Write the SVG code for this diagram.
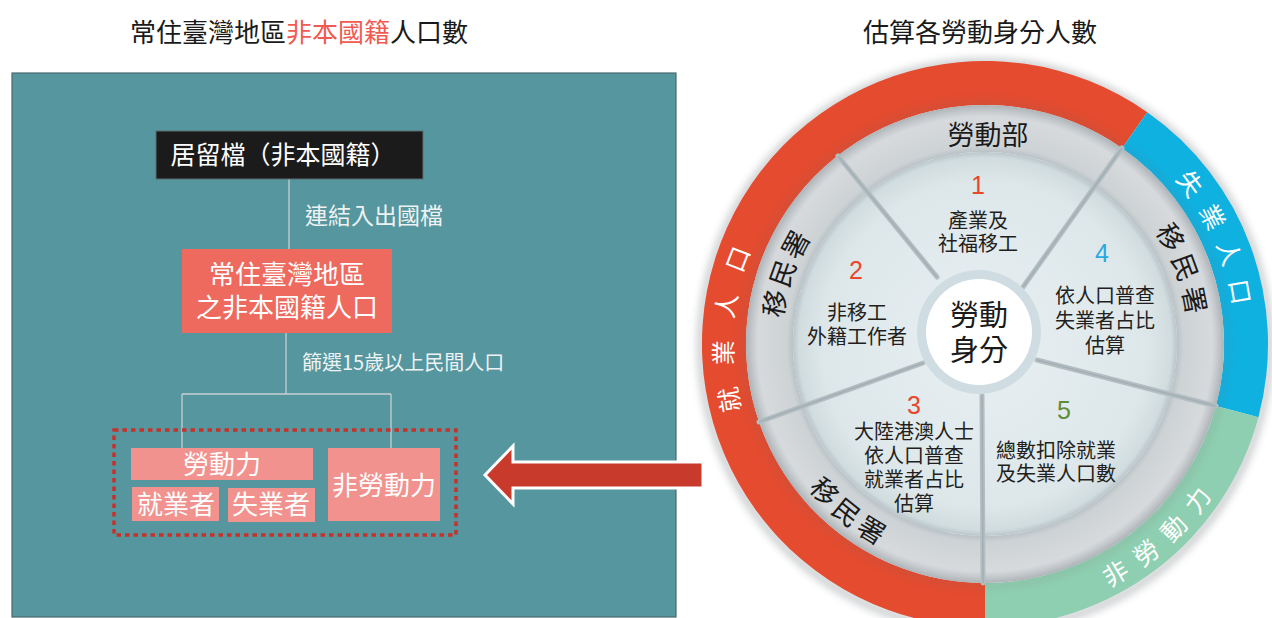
<svg xmlns="http://www.w3.org/2000/svg" width="1272" height="618" viewBox="0 0 1272 618">
<defs>
<style>
.t{font-family:"Noto Sans CJK TC","Noto Sans CJK SC",sans-serif;}
.seg{font-size:20px;fill:#231f20;text-anchor:middle;}
.num{font-size:25px;text-anchor:middle;font-family:"Liberation Sans","Noto Sans",sans-serif;}
.ring{font-size:25px;fill:#ffffff;dominant-baseline:central;}
.gring{font-size:27px;fill:#1a1a1a;dominant-baseline:central;}
.conn{stroke:#c7d0d2;stroke-width:1.3;fill:none;}
.pink{fill:#f1928e;}
.wt{fill:#ffffff;font-size:26px;text-anchor:middle;}
.div{stroke:#b3bec3;stroke-width:5;stroke-linecap:round;}
.div2{stroke:#a3afb4;stroke-width:1.5;}
</style>
<radialGradient id="gGray" gradientUnits="userSpaceOnUse" cx="985" cy="344" r="239">
<stop offset="0.80" stop-color="#b8c0c4"/>
<stop offset="0.83" stop-color="#cdd2d5"/>
<stop offset="0.95" stop-color="#d7dadd"/>
<stop offset="1" stop-color="#b5bbbf"/>
</radialGradient>
<radialGradient id="gLight" gradientUnits="userSpaceOnUse" cx="985" cy="344" r="192">
<stop offset="0" stop-color="#e8eff1"/>
<stop offset="0.85" stop-color="#dde7ea"/>
<stop offset="0.97" stop-color="#d1dcdf"/>
<stop offset="1" stop-color="#b9c6ca"/>
</radialGradient>
<filter id="blur" x="-20%" y="-20%" width="140%" height="140%"><feGaussianBlur stdDeviation="4"/></filter>
<path id="pRed" d="M 731.0 412.1 A 263 263 0 0 1 834.1 128.6"/>
<path id="pBlue" d="M 1183.6 173.1 A 262 262 0 0 1 1231.2 433.6"/>
<path id="pGreen" d="M 1103.5 577.7 A 262 262 0 0 0 1247 344"/>
<path id="pL" d="M 770.8 316.2 A 216 216 0 0 1 877 156.9"/>
<path id="pR" d="M 1165.1 224.8 A 216 216 0 0 1 1188 417.9"/>
<path id="pB" d="M 817.1 479.9 A 216 216 0 0 0 985 560"/>
</defs>
<rect x="0" y="0" width="1272" height="618" fill="#ffffff"/>

<!-- titles -->
<text class="t" x="299" y="42" font-size="26" text-anchor="middle" fill="#1a1a1a">常住臺灣地區<tspan fill="#ef5b52">非本國籍</tspan>人口數</text>
<text class="t" x="980" y="42" font-size="26" text-anchor="middle" fill="#1a1a1a">估算各勞動身分人數</text>

<!-- left panel -->
<rect x="12" y="73" width="664" height="544" fill="#55969f" stroke="#4a6a70" stroke-width="1.2"/>

<g id="connectors">
<line class="conn" x1="289" y1="179" x2="289" y2="249"/>
<line class="conn" x1="286" y1="333" x2="286" y2="394"/>
<line class="conn" x1="182" y1="394" x2="391" y2="394"/>
<line class="conn" x1="182" y1="394" x2="182" y2="448"/>
<line class="conn" x1="391" y1="394" x2="391" y2="448"/>
<text class="t" x="305" y="224" font-size="23" fill="#eef2f2">連結入出國檔</text>
<text class="t" x="302" y="370" font-size="20" fill="#eef2f2">篩選15歲以上民間人口</text>
</g>

<g id="node-residence">
<rect x="156" y="131" width="267" height="48" fill="#1b1b1b" stroke="#5d6d71" stroke-width="1"/>
<text class="t" x="283" y="164" font-size="25" text-anchor="middle" fill="#ffffff">居留檔（非本國籍）</text>
</g>

<g id="node-foreign">
<rect x="182" y="249" width="210" height="84" fill="#ee6a5f"/>
<text class="t wt" x="287" y="284">常住臺灣地區</text>
<text class="t wt" x="287" y="317">之非本國籍人口</text>
</g>

<g id="node-group">
<rect x="114" y="430" width="342" height="105" fill="none" stroke="#c6312a" stroke-width="3.5" stroke-dasharray="4.5 4"/>
</g>
<g id="node-labor">
<rect class="pink" x="131" y="448" width="182" height="32"/>
<text class="t wt" x="222" y="474">勞動力</text>
</g>
<g id="node-employed">
<rect class="pink" x="132" y="487" width="87" height="34"/>
<text class="t wt" x="176" y="514">就業者</text>
</g>
<g id="node-unemployed">
<rect class="pink" x="228" y="488" width="87" height="34"/>
<text class="t wt" x="271" y="514">失業者</text>
</g>
<g id="node-nonlabor">
<rect class="pink" x="328" y="448" width="112" height="73"/>
<text class="t wt" x="384" y="495">非勞動力</text>
</g>

<g id="arrow">
<polygon points="485,475 513,446 513,462 703,462 703,488 513,488 513,504" fill="#c83a2c" stroke="#ffffff" stroke-width="3" stroke-linejoin="miter"/>
</g>

<!-- wheel -->
<g id="wheel">
<circle cx="985" cy="346" r="284" fill="none" stroke="#8a8f93" stroke-width="6" opacity="0.6" filter="url(#blur)"/>
<path d="M 985 627 A 283 283 0 1 1 1147.3 112.2 L 1122.1 148.2 A 239 239 0 1 0 985 583 Z" fill="#e44b2f"/>
<path d="M 1147.3 112.2 A 283 283 0 0 1 1258.4 417.2 L 1215.9 405.9 A 239 239 0 0 0 1122.1 148.2 Z" fill="#0fb1e1"/>
<path d="M 1258.4 417.2 A 283 283 0 0 1 985 627 L 985 583 A 239 239 0 0 0 1215.9 405.9 Z" fill="#8fcfb1"/>
<circle cx="985" cy="344" r="215.5" fill="none" stroke="url(#gGray)" stroke-width="47"/>
<circle cx="985" cy="344" r="241" fill="none" stroke="#6b6b6b" stroke-width="4" opacity="0.25" filter="url(#blur)"/>
<circle cx="985" cy="344" r="192" fill="url(#gLight)"/>
</g>

<g id="dividers">
<line class="div" x1="937" y1="277" x2="838" y2="156"/>
<line class="div" x1="1023" y1="287" x2="1122" y2="148"/>
<line class="div" x1="1037" y1="360" x2="1216" y2="406"/>
<line class="div" x1="982" y1="395" x2="983" y2="583"/>
<line class="div" x1="923" y1="363" x2="759" y2="422"/>
<line class="div2" x1="937" y1="277" x2="838" y2="156"/>
<line class="div2" x1="1023" y1="287" x2="1122" y2="148"/>
<line class="div2" x1="1037" y1="360" x2="1216" y2="406"/>
<line class="div2" x1="982" y1="395" x2="983" y2="583"/>
<line class="div2" x1="923" y1="363" x2="759" y2="422"/>
</g>

<g id="ring-labels">
<text class="t ring" letter-spacing="22.7"><textPath href="#pRed">就業人口</textPath></text>
<text class="t ring" letter-spacing="15.2"><textPath href="#pBlue">失業人口</textPath></text>
<text class="t ring" letter-spacing="11.7"><textPath href="#pGreen">非勞動力</textPath></text>
</g>

<g id="agency-labels">
<text class="t gring" x="988" y="133" text-anchor="middle">勞動部</text>
<text class="t gring" letter-spacing="4.5"><textPath href="#pL">移民署</textPath></text>
<text class="t gring" letter-spacing="7"><textPath href="#pR">移民署</textPath></text>
<text class="t gring" letter-spacing="3.2"><textPath href="#pB">移民署</textPath></text>
</g>

<g id="seg-1">
<text class="num" x="978" y="194" fill="#e8472b">1</text>
<text class="t seg" x="978" y="228">產業及</text>
<text class="t seg" x="978" y="251">社福移工</text>
</g>
<g id="seg-2">
<text class="num" x="856" y="279" fill="#e8472b">2</text>
<text class="t seg" x="857" y="320">非移工</text>
<text class="t seg" x="857" y="344">外籍工作者</text>
</g>
<g id="seg-3">
<text class="num" x="914" y="414" fill="#e8472b">3</text>
<text class="t seg" x="914" y="439">大陸港澳人士</text>
<text class="t seg" x="914" y="463">依人口普查</text>
<text class="t seg" x="914" y="487">就業者占比</text>
<text class="t seg" x="914" y="511">估算</text>
</g>
<g id="seg-4">
<text class="num" x="1102" y="262" fill="#29a9e0">4</text>
<text class="t seg" x="1105" y="303">依人口普查</text>
<text class="t seg" x="1105" y="328">失業者占比</text>
<text class="t seg" x="1105" y="353">估算</text>
</g>
<g id="seg-5">
<text class="num" x="1064" y="419" fill="#5e8c3a">5</text>
<text class="t seg" x="1056" y="458">總數扣除就業</text>
<text class="t seg" x="1056" y="481">及失業人口數</text>
</g>

<g id="center">
<circle cx="979" cy="332" r="62" fill="#cfdde3"/>
<circle cx="979" cy="332" r="53" fill="#ffffff"/>
<text class="t" x="979" y="326" font-size="29" text-anchor="middle" fill="#1a1a1a">勞動</text>
<text class="t" x="979" y="361" font-size="29" text-anchor="middle" fill="#1a1a1a">身分</text>
</g>
</svg>
